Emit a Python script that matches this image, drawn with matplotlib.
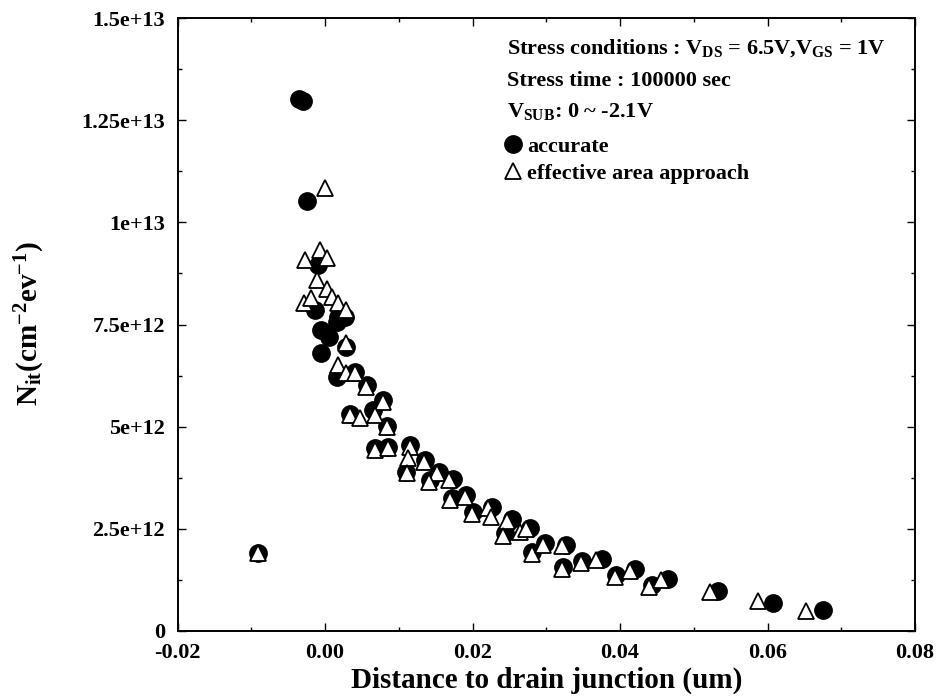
import matplotlib
matplotlib.use("Agg")
import matplotlib.pyplot as plt
from matplotlib.ticker import MultipleLocator, FixedLocator, FixedFormatter

plt.rcParams['font.family'] = ['Liberation Serif', 'DejaVu Serif']
plt.rcParams['font.weight'] = 'bold'
plt.rcParams['axes.labelweight'] = 'bold'
plt.rcParams['mathtext.default'] = 'regular'

# ---------------- data ----------------
acc_x = [-0.0091, -0.0035, -0.0030, -0.0025, -0.0010, -0.0014, 0.0018, 0.0016, 0.0027,
         -0.0005, 0.0005, 0.0029, -0.0005, 0.0016, 0.0041, 0.0057, 0.0079, 0.0034,
         0.0065, 0.0084, 0.0068, 0.0086, 0.0115, 0.0110, 0.0136, 0.0154, 0.0142,
         0.0174, 0.0172, 0.0191, 0.0201, 0.0227, 0.0253, 0.0244, 0.0278, 0.0281,
         0.0298, 0.0327, 0.0323, 0.0349, 0.0375, 0.0395, 0.0420, 0.0443, 0.0465,
         0.0533, 0.0608, 0.0675]
acc_y = [1.91e12, 1.302e13, 1.297e13, 1.052e13, 8.96e12, 7.85e12, 7.69e12, 7.57e12, 7.69e12,
         7.37e12, 7.20e12, 6.96e12, 6.80e12, 6.22e12, 6.34e12, 6.02e12, 5.65e12, 5.30e12,
         5.41e12, 5.02e12, 4.47e12, 4.51e12, 4.55e12, 3.90e12, 4.18e12, 3.90e12, 3.69e12,
         3.71e12, 3.25e12, 3.33e12, 2.92e12, 3.04e12, 2.73e12, 2.39e12, 2.51e12, 1.94e12,
         2.15e12, 2.10e12, 1.56e12, 1.71e12, 1.76e12, 1.37e12, 1.51e12, 1.13e12, 1.28e12,
         0.99e12, 0.69e12, 0.51e12]

eff_x = [-0.0091, 0.0000, -0.0007, -0.0027, 0.0003, -0.0011, 0.0003, 0.0010, 0.0018,
         0.0029, -0.0029, -0.0019, 0.0029, 0.0018, 0.0029, 0.0041, 0.0056, 0.0078,
         0.0034, 0.0047, 0.0068, 0.0084, 0.0068, 0.0086, 0.0115, 0.0113, 0.0111,
         0.0134, 0.0152, 0.0141, 0.0168, 0.0170, 0.0190, 0.0199, 0.0221, 0.0225,
         0.0247, 0.0241, 0.0264, 0.0273, 0.0281, 0.0296, 0.0321, 0.0322, 0.0347,
         0.0368, 0.0393, 0.0413, 0.0439, 0.0456, 0.0522, 0.0587, 0.0652]
eff_y = [1.91e12, 1.083e13, 9.32e12, 9.08e12, 9.12e12, 8.59e12, 8.36e12, 8.18e12, 8.03e12,
         7.85e12, 8.02e12, 8.14e12, 7.04e12, 6.51e12, 6.31e12, 6.31e12, 5.98e12, 5.61e12,
         5.29e12, 5.20e12, 5.29e12, 5.00e12, 4.43e12, 4.47e12, 4.51e12, 4.23e12, 3.86e12,
         4.14e12, 3.86e12, 3.65e12, 3.69e12, 3.20e12, 3.29e12, 2.86e12, 3.00e12, 2.79e12,
         2.70e12, 2.32e12, 2.43e12, 2.49e12, 1.88e12, 2.10e12, 2.08e12, 1.51e12, 1.67e12,
         1.74e12, 1.33e12, 1.48e12, 1.07e12, 1.25e12, 0.95e12, 0.73e12, 0.49e12]

x_ticks = [-0.02, 0.00, 0.02, 0.04, 0.06, 0.08]
x_tick_labels = ["-0.02", "0.00", "0.02", "0.04", "0.06", "0.08"]
y_ticks = [0, 2.5e12, 5e12, 7.5e12, 1e13, 1.25e13, 1.5e13]
y_tick_labels = ["0", "2.5e+12", "5e+12", "7.5e+12", "1e+13", "1.25e+13", "1.5e+13"]

series_labels = ["accurate", "effective area approach"]
x_label = "Distance to drain junction (um)"
y_label = r"N$_{it}$(cm$^{-2}$ev$^{-1}$)"
annot_lines = ["Stress conditions : V$_{DS}$ = 6.5V,V$_{GS}$ = 1V",
               "Stress time : 100000 sec",
               "V$_{SUB}$: 0 ~ -2.1V"]

# ---------------- figure ----------------
W, H = 938, 698
fig = plt.figure(figsize=(W / 100, H / 100), dpi=100)
ax = fig.add_axes([177.5 / W, 1 - 631 / H, (915 - 177.5) / W, (631 - 18) / H])

h_acc, = ax.plot(acc_x, acc_y, linestyle='none', marker='o', markersize=12.5,
                 markerfacecolor='black', markeredgecolor='black', zorder=3)
h_eff, = ax.plot(eff_x, eff_y, linestyle='none', marker='^', markersize=12,
                 markerfacecolor='white', markeredgecolor='black', markeredgewidth=1.3, zorder=4)

ax.set_xlim(-0.02, 0.08)
ax.set_ylim(0, 1.5e13)
ax.xaxis.set_major_locator(FixedLocator(x_ticks))
ax.xaxis.set_major_formatter(FixedFormatter(x_tick_labels))
ax.xaxis.set_minor_locator(MultipleLocator(0.01))
ax.yaxis.set_major_locator(FixedLocator(y_ticks))
ax.yaxis.set_major_formatter(FixedFormatter(y_tick_labels))
ax.yaxis.set_minor_locator(MultipleLocator(1.25e12))

ax.tick_params(which='both', direction='in', top=True, right=True, width=1.0)
ax.tick_params(which='major', length=6, labelsize=16, pad=9)
ax.tick_params(which='minor', length=3)
for s in ax.spines.values():
    s.set_linewidth(1.4)
for lbl in ax.get_xticklabels() + ax.get_yticklabels():
    lbl.set_fontweight('bold')

ax.set_xlabel(x_label, fontsize=21, fontweight='bold', labelpad=2)
fig.text(30 / W, 1 - 324 / H, y_label, rotation=90, ha='center', va='center',
         fontsize=21, fontweight='bold')

baselines = [53.3, 86.0, 117.3]
for line, b in zip(annot_lines, baselines):
    fig.text(507 / W, 1 - b / H, line, ha='left', va='baseline', fontsize=16, fontweight='bold')

leg = ax.legend([h_acc, h_eff], series_labels, loc='upper left',
                bbox_to_anchor=(505 / W, 1 - 136 / H), bbox_transform=fig.transFigure,
                frameon=False, borderpad=0, borderaxespad=0, handlelength=0.7,
                handletextpad=0.3, labelspacing=0.32, prop={'size': 16, 'weight': 'bold'})

fig.savefig("out.png", dpi=100)
